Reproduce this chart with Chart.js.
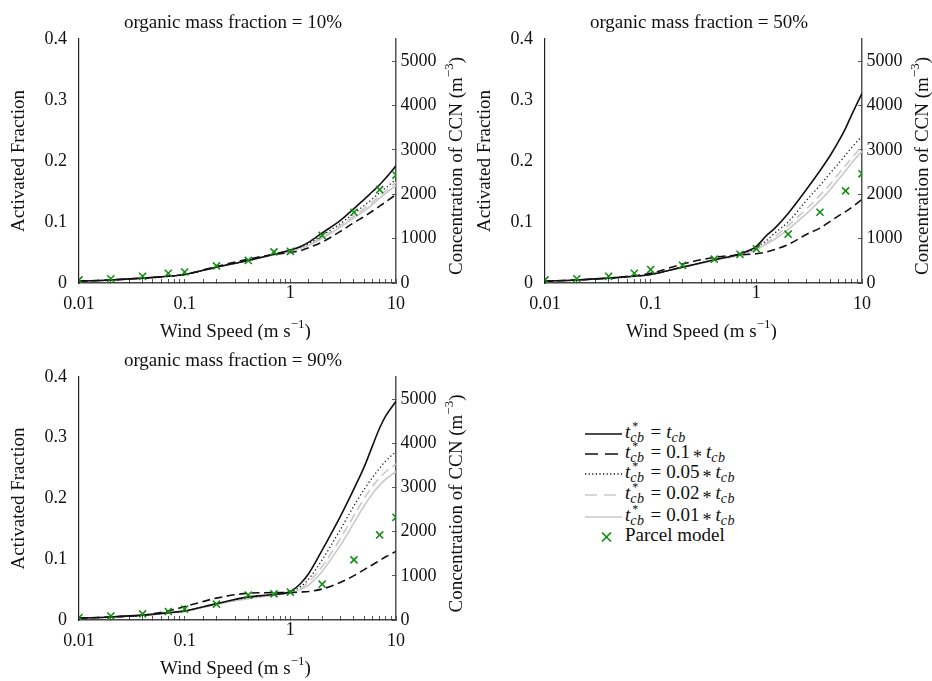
<!DOCTYPE html>
<html>
<head>
<meta charset="utf-8">
<script src="https://cdn.jsdelivr.net/npm/chart.js@4.4.1/dist/chart.umd.min.js"></script>
<style>
  html, body { margin:0; padding:0; background:#fff; }
  body { width:932px; height:681px; position:relative; overflow:hidden; font-family:'Liberation Serif','Times New Roman',serif; color:#111; }
  canvas { position:absolute; }
  .row { position:absolute; left:585px; height:22px; display:flex; align-items:center; white-space:nowrap; font-size:19px; line-height:22px; }
  .row svg { width:38px; height:22px; flex:none; }
  .row .txt { margin-left:2px; position:relative; top:-2px; }
  .ss { display:inline-block; vertical-align:-4px; font-size:14px; line-height:12px; margin-right:2px; letter-spacing:0.5px; }
  .ss span { display:block; }
  .ss .st { font-size:12px; margin-left:2px; }
  .eq { margin:0 5px 0 4px; }
  .op { position:relative; top:5px; font-size:18px; margin:0 4px 0 3px; }
</style>
</head>
<body>
<canvas id="c1" width="466" height="340" style="left:0;top:0"></canvas>
<canvas id="c2" width="466" height="340" style="left:466px;top:0"></canvas>
<canvas id="c3" width="466" height="343" style="left:0;top:338px"></canvas>

<div id="legend"></div>

<script>
// ---------- DATA ----------
const windSpeed = [0.01, 0.02, 0.04, 0.07, 0.1, 0.2, 0.4, 0.7, 1, 1.25, 1.5, 2, 3, 4, 5, 6, 7, 8, 10];
const parcelWind = [0.01, 0.02, 0.04, 0.07, 0.1, 0.2, 0.4, 0.7, 1, 2, 4, 7, 10];

// organic mass fraction = 10%
const full10      = [0.003,0.005,0.008,0.011,0.014,0.026,0.037,0.047,0.054,0.060,0.067,0.082,0.103,0.122,0.137,0.150,0.161,0.172,0.192];
const tenth10     = [0.003,0.005,0.008,0.011,0.014,0.027,0.039,0.047,0.050,0.053,0.058,0.067,0.085,0.099,0.109,0.118,0.126,0.133,0.145];
const fifth10     = [0.003,0.005,0.008,0.011,0.014,0.026,0.037,0.047,0.053,0.059,0.065,0.078,0.098,0.114,0.127,0.138,0.148,0.156,0.170];
const fiftieth10  = [0.003,0.005,0.008,0.011,0.014,0.026,0.037,0.046,0.052,0.058,0.063,0.075,0.095,0.110,0.122,0.133,0.143,0.151,0.165];
const hundredth10 = [0.003,0.005,0.008,0.011,0.014,0.026,0.037,0.046,0.052,0.057,0.062,0.073,0.092,0.107,0.118,0.129,0.139,0.147,0.160];
const parcel10    = [0.005,0.007,0.011,0.016,0.018,0.028,0.037,0.051,0.052,0.078,0.116,0.153,0.177];

// organic mass fraction = 50%
const full50      = [0.003,0.005,0.008,0.011,0.014,0.026,0.038,0.048,0.060,0.078,0.090,0.114,0.154,0.184,0.209,0.232,0.254,0.276,0.311];
const tenth50     = [0.003,0.005,0.008,0.012,0.016,0.031,0.042,0.046,0.048,0.051,0.055,0.063,0.080,0.090,0.101,0.110,0.117,0.124,0.137];
const fifth50     = [0.003,0.005,0.008,0.011,0.014,0.026,0.038,0.047,0.058,0.070,0.082,0.100,0.136,0.160,0.180,0.196,0.210,0.222,0.241];
const fiftieth50  = [0.003,0.005,0.008,0.011,0.014,0.026,0.037,0.046,0.056,0.066,0.076,0.094,0.122,0.144,0.162,0.179,0.193,0.205,0.224];
const hundredth50 = [0.003,0.005,0.008,0.011,0.014,0.026,0.037,0.046,0.055,0.064,0.072,0.088,0.114,0.135,0.153,0.170,0.184,0.197,0.216];
const parcel50    = [0.005,0.007,0.011,0.016,0.022,0.029,0.039,0.047,0.056,0.080,0.116,0.151,0.179];

// organic mass fraction = 90%
const full90      = [0.003,0.005,0.008,0.012,0.015,0.027,0.038,0.042,0.047,0.060,0.077,0.115,0.172,0.216,0.252,0.287,0.316,0.336,0.360];
const tenth90     = [0.003,0.005,0.008,0.015,0.022,0.036,0.044,0.045,0.045,0.046,0.047,0.051,0.062,0.073,0.083,0.091,0.098,0.104,0.113];
const fifth90     = [0.003,0.005,0.008,0.012,0.015,0.027,0.037,0.042,0.046,0.055,0.068,0.099,0.150,0.188,0.215,0.235,0.250,0.262,0.277];
const fiftieth90  = [0.003,0.005,0.008,0.011,0.014,0.026,0.036,0.041,0.045,0.052,0.063,0.088,0.135,0.172,0.200,0.220,0.234,0.244,0.257];
const hundredth90 = [0.003,0.005,0.008,0.011,0.014,0.026,0.035,0.041,0.045,0.050,0.058,0.080,0.124,0.160,0.188,0.208,0.222,0.232,0.244];
const parcel90    = [0.004,0.0066,0.010,0.014,0.018,0.026,0.041,0.043,0.046,0.059,0.099,0.140,0.169];

const titles = ['organic mass fraction = 10%', 'organic mass fraction = 50%', 'organic mass fraction = 90%'];
const xTickLabels = [0.01, 0.1, 1, 10];
const leftTicks = [0, 0.1, 0.2, 0.3, 0.4];
const rightTicks = [0, 1000, 2000, 3000, 4000, 5000];
const rightMax = 5500;

// ---------- STYLE ----------
const FONT = "'Liberation Serif','Times New Roman',serif";
const INK = '#111';
const GRAY = '#c9c9c9';
const GREEN = 'rgb(20,140,20)';

const seriesStyles = [
  { color: INK,  width: 1.6, dash: [],         legendDash: [] },        // t* = t
  { color: INK,  width: 1.6, dash: [8, 4.5],   legendDash: [13, 7] },   // 0.1
  { color: INK,  width: 1.3, dash: [1.2, 2.6], legendDash: [1.2, 2.4] },// 0.05
  { color: GRAY, width: 1.6, dash: [9, 5],     legendDash: [12, 7] },   // 0.02
  { color: GRAY, width: 1.6, dash: [],         legendDash: [] }         // 0.01
];

function pts(xs, ys) { return xs.map((x, i) => ({ x: x, y: ys[i] })); }

function richDraw(ctx, segs, x, y, rot) {
  const BASE = '19px ' + FONT, SUP = '13px ' + FONT;
  ctx.save();
  ctx.translate(x, y);
  ctx.rotate(rot);
  ctx.textBaseline = 'middle';
  ctx.textAlign = 'left';
  ctx.fillStyle = INK;
  let w = 0;
  segs.forEach(s => { ctx.font = s.sup ? SUP : BASE; w += ctx.measureText(s.t).width; });
  let cx = -w / 2;
  segs.forEach(s => {
    ctx.font = s.sup ? SUP : BASE;
    ctx.fillText(s.t, cx, s.sup ? -7 : 0);
    cx += ctx.measureText(s.t).width;
  });
  ctx.restore();
}

const axisTitlePlugin = {
  id: 'axisTitles',
  afterDraw(chart) {
    const a = chart.chartArea, ctx = chart.ctx;
    const mid = (a.top + a.bottom) / 2;
    richDraw(ctx, [{ t: 'Activated Fraction' }], a.left - 60, mid, -Math.PI / 2);
    richDraw(ctx, [{ t: 'Concentration of CCN (m' }, { t: '\u22123', sup: true }, { t: ')' }], a.right + 61, mid + 5, -Math.PI / 2);
    richDraw(ctx, [{ t: 'Wind Speed (m s' }, { t: '\u22121', sup: true }, { t: ')' }], (a.left + a.right) / 2 - 2, a.bottom + 49, 0);
  }
};

function isDecade(v) { const l = Math.log10(v); return Math.abs(l - Math.round(l)) < 1e-9; }

function makeChart(id, title, lines, parcel, plotH) {
  const canvas = document.getElementById(id);
  const H = canvas.height;
  const datasets = [{
    label: 'Parcel model',
    data: pts(parcelWind, parcel),
    showLine: false,
    pointStyle: 'crossRot',
    pointRadius: 5,
    pointBorderWidth: 1.6,
    borderColor: GREEN,
    backgroundColor: GREEN,
    yAxisID: 'y'
  }];
  lines.forEach((ys, i) => {
    const st = seriesStyles[i];
    datasets.push({
      data: pts(windSpeed, ys),
      showLine: true,
      borderColor: st.color,
      borderWidth: st.width,
      borderDash: st.dash,
      pointRadius: 0,
      pointHoverRadius: 0,
      fill: false,
      cubicInterpolationMode: 'monotone',
      yAxisID: 'y'
    });
  });
  return new Chart(canvas, {
    type: 'scatter',
    data: { datasets },
    options: {
      responsive: false,
      animation: false,
      devicePixelRatio: 1,
      layout: { padding: 0 },
      plugins: {
        legend: { display: false },
        tooltip: { enabled: false },
        title: {
          display: true, text: title, color: INK,
          font: { family: FONT, size: 19, weight: 'normal' },
          padding: { top: 12, bottom: 4.2 }
        }
      },
      scales: {
        x: {
          type: 'logarithmic', position: 'bottom', min: 0.01, max: 10,
          border: { display: true, color: '#444', width: 1.5 },
          grid: { drawOnChartArea: false, drawTicks: true, tickLength: -4, color: '#555', lineWidth: 1 },
          ticks: {
            autoSkip: false, maxRotation: 0, minRotation: 0, padding: 14, crossAlign: 'center',
            color: INK, font: { family: FONT, size: 18 },
            callback: (v) => {
              if (!(isDecade(v) && xTickLabels.some(t => Math.abs(t - v) / t < 1e-6))) return '';
              const s = String(+v.toPrecision(3));
              return s === '1' ? ['1', ''] : s;
            }
          },
          afterFit: (s) => { s.height = H - 39 - plotH; }
        },
        y: {
          type: 'linear', position: 'left', min: leftTicks[0], max: leftTicks[leftTicks.length - 1],
          border: { display: true, color: '#222', width: 1.2 },
          grid: { drawOnChartArea: false, drawTicks: false },
          ticks: { padding: 12, color: INK, font: { family: FONT, size: 18 },
            callback: (v) => String(+v.toFixed(2)) },
          afterBuildTicks: (s) => { s.ticks = leftTicks.map(v => ({ value: v })); },
          afterFit: (s) => { s.width = 79; }
        },
        y2: {
          type: 'linear', position: 'right', min: rightTicks[0], max: rightMax,
          border: { display: true, color: '#555', width: 1.5 },
          grid: { drawOnChartArea: false, drawTicks: true, tickLength: -4, color: '#555' },
          ticks: { padding: 8.5, color: INK, font: { family: FONT, size: 18 },
            callback: (v) => String(Math.round(v)) },
          afterBuildTicks: (s) => { s.ticks = rightTicks.map(v => ({ value: v })); },
          afterFit: (s) => { s.width = 70; }
        }
      }
    },
    plugins: [axisTitlePlugin]
  });
}

makeChart('c1', titles[0], [full10, tenth10, fifth10, fiftieth10, hundredth10], parcel10, 244);
makeChart('c2', titles[1], [full50, tenth50, fifth50, fiftieth50, hundredth50], parcel50, 244);
makeChart('c3', titles[2], [full90, tenth90, fifth90, fiftieth90, hundredth90], parcel90, 243);

// ---------- LEGEND ----------
const legendFactors = ['', '0.1', '0.05', '0.02', '0.01'];
const legendRowY = [434, 453.5, 473.5, 494.5, 516.5, 537];
const tstar = '<i>t</i><span class="ss"><span class="st">*</span><span><i>cb</i></span></span>';
const tcb = '<i>t</i><span class="ss"><span>&nbsp;</span><span><i>cb</i></span></span>';
let html = '';
seriesStyles.forEach((st, i) => {
  const dash = st.legendDash.length ? `stroke-dasharray="${st.legendDash.join(' ')}"` : '';
  const rhs = legendFactors[i] ? `${legendFactors[i]}<span class="op">*</span>${tcb}` : tcb;
  html += `<div class="row" style="top:${legendRowY[i] - 11}px">
    <svg viewBox="0 0 38 22"><line x1="0" y1="11" x2="${i === 1 || i === 3 ? 33 : 37}" y2="11" stroke="${st.color}" stroke-width="${st.width}" ${dash}/></svg>
    <span class="txt">${tstar}<span class="eq">=</span>${rhs}</span></div>`;
});
html += `<div class="row" style="top:${legendRowY[5] - 11}px">
  <svg viewBox="0 0 38 22"><line x1="17" y1="6.5" x2="26" y2="15.5" stroke="${GREEN}" stroke-width="1.7"/><line x1="26" y1="6.5" x2="17" y2="15.5" stroke="${GREEN}" stroke-width="1.7"/></svg>
  <span class="txt">Parcel model</span></div>`;
document.getElementById('legend').innerHTML = html;
</script>
</body>
</html>
